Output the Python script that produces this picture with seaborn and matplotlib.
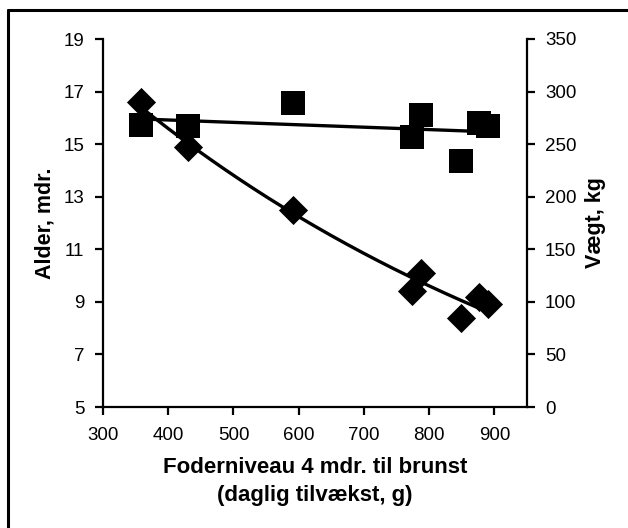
import numpy as np
import pandas as pd
import seaborn as sns
import matplotlib
matplotlib.use("Agg")
import matplotlib.pyplot as plt
from matplotlib.lines import Line2D

# Feeding level from 4 months to heat (daily gain, g)
feed = [358, 430, 591, 774, 787, 849, 876, 890]
# Age at first heat (months) - left axis
age = [16.6, 14.9, 12.5, 9.4, 10.1, 8.4, 9.2, 8.9]
# Weight at first heat (kg) - right axis
weight = [268, 267, 289, 257, 278, 234, 270, 267]

x_ticks = [300, 400, 500, 600, 700, 800, 900]
age_ticks = [5, 7, 9, 11, 13, 15, 17, 19]
weight_ticks = [0, 50, 100, 150, 200, 250, 300, 350]

sns.set_style("white")
plt.rcParams["font.family"] = ["Liberation Sans", "DejaVu Sans"]
plt.rcParams["text.color"] = "black"
plt.rcParams["axes.labelcolor"] = "black"

df = pd.DataFrame({"feed": feed, "age": age, "weight": weight})

# Trend lines: exponential fit for age, linear fit for weight
xs = np.linspace(min(feed), max(feed), 200)
k, ln_a = np.polyfit(df["feed"], np.log(df["age"]), 1)
age_fit = np.exp(ln_a + k * xs)
m, c = np.polyfit(df["feed"], df["weight"], 1)
weight_fit = m * xs + c
fit = pd.DataFrame({"feed": xs, "age": age_fit, "weight": weight_fit})

fig = plt.figure(figsize=(6.28, 5.28), dpi=100)
ax = fig.add_axes([103 / 628, 1 - 407 / 528, (527 - 103) / 628, (407 - 39) / 528])
ax2 = ax.twinx()

sns.lineplot(data=fit, x="feed", y="age", ax=ax, color="black", lw=2.4, zorder=2)
sns.scatterplot(data=df, x="feed", y="age", ax=ax, marker="D", s=220,
                color="black", edgecolor="black", linewidth=0, zorder=3)

sns.lineplot(data=fit, x="feed", y="weight", ax=ax2, color="black", lw=2.4, zorder=2)
sns.scatterplot(data=df, x="feed", y="weight", ax=ax2, marker="s", s=290,
                color="black", edgecolor="black", linewidth=0, zorder=3)

ax.set_xlim(300, 950)
ax.set_ylim(5, 19)
ax2.set_ylim(0, 350)
ax.set_xticks(x_ticks)
ax.set_yticks(age_ticks)
ax2.set_yticks(weight_ticks)

for a in (ax, ax2):
    a.spines["top"].set_visible(False)
    for s in ("left", "right", "bottom"):
        a.spines[s].set_linewidth(1.6)
        a.spines[s].set_color("black")
ax.spines["right"].set_visible(False)
ax2.spines["left"].set_visible(False)
ax2.spines["bottom"].set_visible(False)

ax.tick_params(axis="both", direction="out", length=5.5, width=1.6, colors="black",
               labelsize=13.5, left=True, bottom=True)
ax.tick_params(axis="y", pad=8)
ax.tick_params(axis="x", pad=9)
ax2.tick_params(axis="y", direction="out", length=5.5, width=1.6, colors="black",
                labelsize=13.5, right=True, pad=7.5)

ax.set_xlabel("Foderniveau 4 mdr. til brunst\n(daglig tilvækst, g)",
              fontsize=16, fontweight="bold", linespacing=1.45, labelpad=9,
              color="black")
ax.set_ylabel("Alder, mdr.", fontsize=15.5, fontweight="bold", labelpad=6,
              color="black")
ax2.set_ylabel("Vægt, kg", fontsize=15.5, fontweight="bold", labelpad=6,
               color="black")

# Outer frame (left and top edges)
fig.add_artist(Line2D([7.5 / 628, 7.5 / 628], [0, 1 - 9.5 / 528],
                      transform=fig.transFigure, color="black", lw=2.2))
fig.add_artist(Line2D([7.5 / 628, 1], [1 - 9.5 / 528, 1 - 9.5 / 528],
                      transform=fig.transFigure, color="black", lw=2.2))

fig.savefig("out.png", dpi=100)
